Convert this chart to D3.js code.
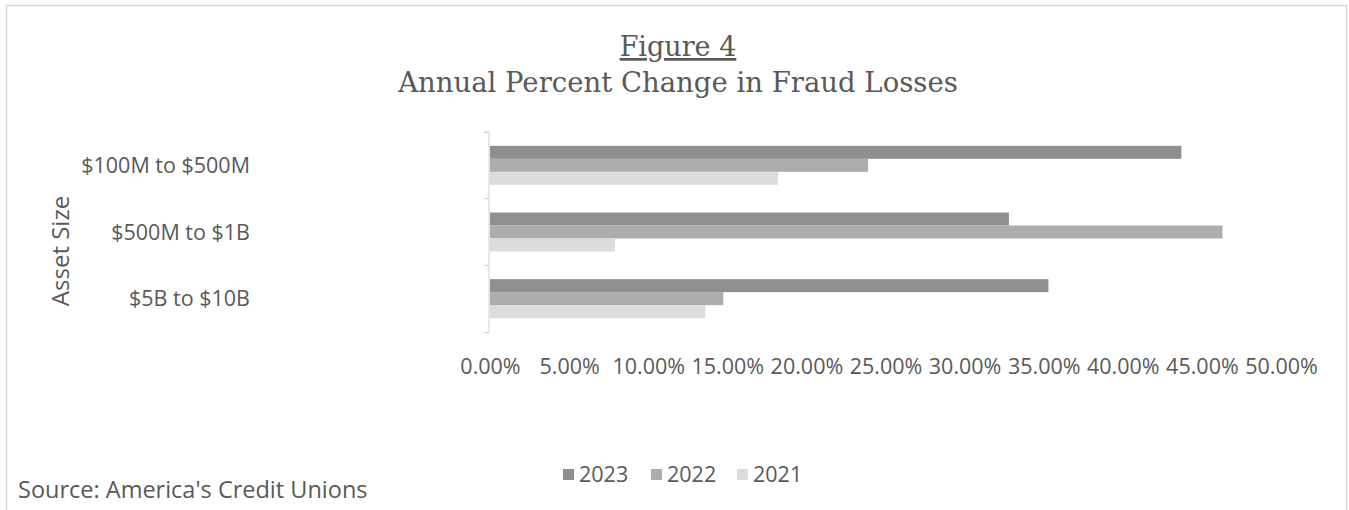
<!DOCTYPE html>
<html>
<head>
<meta charset="utf-8">
<script src="https://cdn.jsdelivr.net/npm/d3@7"></script>
<style>
  html, body { margin: 0; padding: 0; background: #fff; }
  svg { display: block; }
</style>
</head>
<body>
<svg id="chart" width="1349" height="510"></svg>
<script>
const categories = ["$100M to $500M", "$500M to $1B", "$5B to $10B"];
const seriesNames = ["2023", "2022", "2021"];
const values2023 = [0.437, 0.328, 0.353];
const values2022 = [0.239, 0.463, 0.1475];
const values2021 = [0.182, 0.079, 0.136];
const tickValues = [0, 0.05, 0.10, 0.15, 0.20, 0.25, 0.30, 0.35, 0.40, 0.45, 0.50];
const seriesColors = ["#8f8f8f", "#adadad", "#dcdcdc"];

const series = [values2023, values2022, values2021];
const svg = d3.select("#chart");
const textColor = "#595959";
const sans = "'Open Sans', 'DejaVu Sans', sans-serif";
const serif = "'DejaVu Serif', Georgia, serif";

// frame
svg.append("rect").attr("x", 6.5).attr("y", 5.5).attr("width", 1340).attr("height", 520)
  .attr("fill", "none").attr("stroke", "#d9d9d9").attr("stroke-width", 1.5);

// title
svg.append("text").attr("x", 678).attr("y", 56).attr("text-anchor", "middle")
  .attr("font-family", serif).attr("font-size", 27).attr("fill", textColor)
  .attr("text-decoration", "underline").text("Figure 4");
svg.append("text").attr("x", 678).attr("y", 92).attr("text-anchor", "middle")
  .attr("font-family", serif).attr("font-size", 27.5).attr("fill", textColor)
  .text("Annual Percent Change in Fraud Losses");

const x = d3.scaleLinear().domain([0, 0.5]).range([490, 1281]);
const y = d3.scaleBand().domain(categories).range([132, 332]).paddingInner(0).paddingOuter(0);
const inner = d3.scaleBand().domain(seriesNames).range([0, 39]);
const groupOffset = (y.bandwidth() - 39) / 2;

// bars
seriesNames.forEach((s, si) => {
  svg.append("g").selectAll("rect").data(categories).join("rect")
    .attr("x", x(0))
    .attr("y", d => y(d) + groupOffset + inner(s))
    .attr("width", (d, i) => x(series[si][i]) - x(0))
    .attr("height", inner.bandwidth())
    .attr("fill", seriesColors[si]);
});

// y axis
const yAxis = d3.axisLeft(y).tickSize(5).tickFormat("");
const yg = svg.append("g").attr("transform", `translate(${x(0) - 1},0)`).call(yAxis);
yg.select(".domain").attr("stroke", "#d0d0d0").attr("d", "M-5,132.5H0V332.5H-5");
yg.selectAll(".tick line").attr("stroke", "#d0d0d0")
  .attr("transform", `translate(0,${-y.bandwidth() / 2})`);

// category labels
svg.append("g").selectAll("text").data(categories).join("text")
  .attr("x", 250).attr("y", d => y(d) + y.bandwidth() / 2)
  .attr("dy", "0.35em").attr("text-anchor", "end")
  .attr("font-family", sans).attr("font-size", 21.5).attr("fill", textColor)
  .text(d => d);

// x tick labels
const xAxis = d3.axisBottom(x).tickValues(tickValues).tickSize(0).tickFormat(d3.format(".2%"));
const xg = svg.append("g").attr("transform", "translate(0,366)").call(xAxis);
xg.select(".domain").remove();
xg.selectAll("text").attr("font-family", sans).attr("font-size", 21.5).attr("fill", textColor)
  .attr("y", 0).attr("dy", "0.35em");

// axis title
svg.append("text").attr("transform", "translate(61,251) rotate(-90)")
  .attr("text-anchor", "middle").attr("dy", "0.35em").attr("font-family", sans).attr("font-size", 24)
  .attr("fill", textColor).text("Asset Size");

// legend
const legendX = [563, 651, 737];
const lg = svg.append("g").selectAll("g").data(seriesNames).join("g")
  .attr("transform", (d, i) => `translate(${legendX[i]},474)`);
lg.append("rect").attr("x", 0).attr("y", -5).attr("width", 11).attr("height", 11)
  .attr("fill", (d, i) => seriesColors[i]);
lg.append("text").attr("x", 16).attr("dy", "0.35em").attr("font-family", sans)
  .attr("font-size", 21.5).attr("fill", textColor).text(d => d);

// source
svg.append("text").attr("x", 18).attr("y", 498).attr("font-family", sans)
  .attr("font-size", 23.5).attr("fill", textColor).text("Source: America's Credit Unions");
</script>
</body>
</html>
